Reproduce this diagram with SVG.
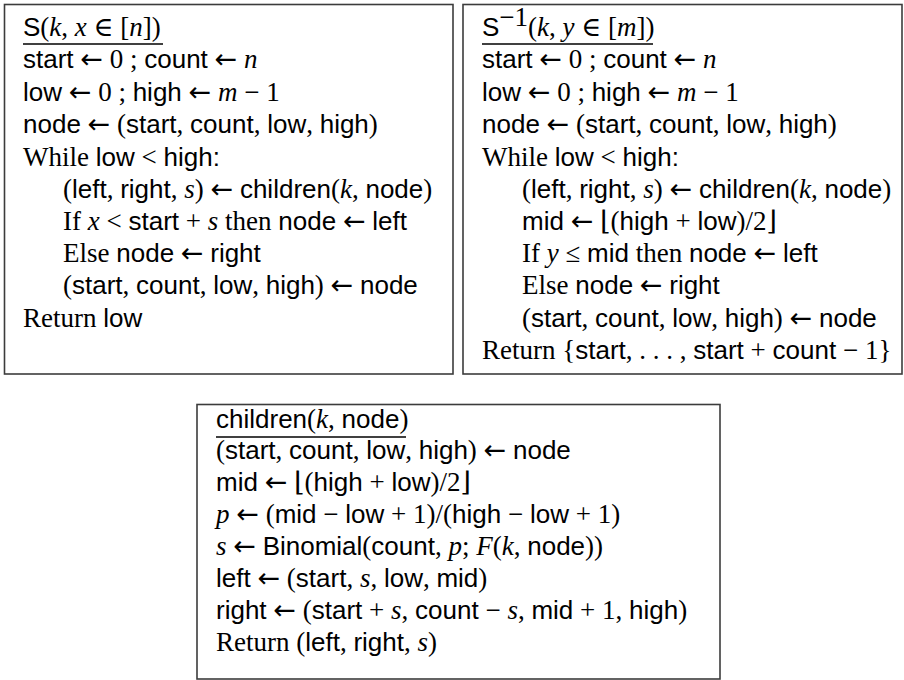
<svg xmlns="http://www.w3.org/2000/svg" width="904" height="680" viewBox="0 0 904 680">
<style>
text{font-family:"Liberation Sans",Arial,sans-serif;font-size:26px;fill:#000;white-space:pre}
.r{font-family:"Liberation Serif","DejaVu Serif",serif;font-size:27px}
.i{font-family:"Liberation Serif","DejaVu Serif",serif;font-size:27px;font-style:italic}
.a{font-family:"DejaVu Sans",sans-serif;font-size:27px;font-style:normal}
.box{fill:#fff;stroke:#3c3c3c;stroke-width:1.6}
.ul{stroke:#000;stroke-width:1.3}
</style>
<rect width="904" height="680" fill="#fff"/>
<g id="connectors"/>
<g id="S">
<rect class="box" x="4.5" y="4.5" width="448.5" height="369.5"/>
<text x="23" y="36">S<tspan class="r">(</tspan><tspan class="i">k</tspan><tspan class="r">, </tspan><tspan class="i">x</tspan><tspan class="r"> ∈ [</tspan><tspan class="i">n</tspan><tspan class="r">])</tspan></text>
<line class="ul" x1="23" y1="44" x2="163" y2="44"/>
<text x="23" y="68">start<tspan class="r"> <tspan class="a">←</tspan> 0 ; </tspan>count<tspan class="r"> <tspan class="a">←</tspan> </tspan><tspan class="i">n</tspan></text>
<text x="23" y="101">low<tspan class="r"> <tspan class="a">←</tspan> 0 ; </tspan>high<tspan class="r"> <tspan class="a">←</tspan> </tspan><tspan class="i">m</tspan><tspan class="r"> − 1</tspan></text>
<text x="23" y="133">node<tspan class="r"> <tspan class="a">←</tspan> (</tspan>start<tspan class="r">, </tspan>count<tspan class="r">, </tspan>low<tspan class="r">, </tspan>high<tspan class="r">)</tspan></text>
<text x="23" y="166"><tspan class="r">While </tspan>low<tspan class="r"> &lt; </tspan>high:</text>
<text x="63" y="198"><tspan class="r">(</tspan>left<tspan class="r">, </tspan>right<tspan class="r">, </tspan><tspan class="i">s</tspan><tspan class="r">) <tspan class="a">←</tspan> </tspan>children<tspan class="r">(</tspan><tspan class="i">k</tspan><tspan class="r">, </tspan>node<tspan class="r">)</tspan></text>
<text x="63" y="230"><tspan class="r">If </tspan><tspan class="i">x</tspan><tspan class="r"> &lt; </tspan>start<tspan class="r"> + </tspan><tspan class="i">s</tspan><tspan class="r"> then </tspan>node<tspan class="r"> <tspan class="a">←</tspan> </tspan>left</text>
<text x="63" y="262"><tspan class="r">Else </tspan>node<tspan class="r"> <tspan class="a">←</tspan> </tspan>right</text>
<text x="63" y="294"><tspan class="r">(</tspan>start<tspan class="r">, </tspan>count<tspan class="r">, </tspan>low<tspan class="r">, </tspan>high<tspan class="r">) <tspan class="a">←</tspan> </tspan>node</text>
<text x="23" y="327"><tspan class="r">Return </tspan>low</text>
</g>
<g id="Sinv">
<rect class="box" x="463" y="4.5" width="439" height="369.5"/>
<text x="482" y="36">S<tspan class="r" font-size="16" dy="-10">−1</tspan><tspan class="r" dy="10">(</tspan><tspan class="i">k</tspan><tspan class="r">, </tspan><tspan class="i">y</tspan><tspan class="r"> ∈ [</tspan><tspan class="i">m</tspan><tspan class="r">])</tspan></text>
<line class="ul" x1="482" y1="44" x2="653" y2="44"/>
<text x="482" y="68">start<tspan class="r"> <tspan class="a">←</tspan> 0 ; </tspan>count<tspan class="r"> <tspan class="a">←</tspan> </tspan><tspan class="i">n</tspan></text>
<text x="482" y="101">low<tspan class="r"> <tspan class="a">←</tspan> 0 ; </tspan>high<tspan class="r"> <tspan class="a">←</tspan> </tspan><tspan class="i">m</tspan><tspan class="r"> − 1</tspan></text>
<text x="482" y="133">node<tspan class="r"> <tspan class="a">←</tspan> (</tspan>start<tspan class="r">, </tspan>count<tspan class="r">, </tspan>low<tspan class="r">, </tspan>high<tspan class="r">)</tspan></text>
<text x="482" y="166"><tspan class="r">While </tspan>low<tspan class="r"> &lt; </tspan>high:</text>
<text x="522" y="198"><tspan class="r">(</tspan>left<tspan class="r">, </tspan>right<tspan class="r">, </tspan><tspan class="i">s</tspan><tspan class="r">) <tspan class="a">←</tspan> </tspan>children<tspan class="r">(</tspan><tspan class="i">k</tspan><tspan class="r">, </tspan>node<tspan class="r">)</tspan></text>
<text x="522" y="230">mid<tspan class="r"> <tspan class="a">←</tspan> ⌊(</tspan>high<tspan class="r"> + </tspan>low<tspan class="r">)/2⌋</tspan></text>
<text x="522" y="262"><tspan class="r">If </tspan><tspan class="i">y</tspan><tspan class="r"> ≤ </tspan>mid<tspan class="r"> then </tspan>node<tspan class="r"> <tspan class="a">←</tspan> </tspan>left</text>
<text x="522" y="294"><tspan class="r">Else </tspan>node<tspan class="r"> <tspan class="a">←</tspan> </tspan>right</text>
<text x="522" y="327"><tspan class="r">(</tspan>start<tspan class="r">, </tspan>count<tspan class="r">, </tspan>low<tspan class="r">, </tspan>high<tspan class="r">) <tspan class="a">←</tspan> </tspan>node</text>
<text x="482" y="359"><tspan class="r">Return {</tspan>start<tspan class="r">, . . . , </tspan>start<tspan class="r"> + </tspan>count<tspan class="r"> − 1}</tspan></text>
</g>
<g id="children">
<rect class="box" x="197" y="404.5" width="523" height="274.5"/>
<text x="216" y="428">children<tspan class="r">(</tspan><tspan class="i">k</tspan><tspan class="r">, </tspan>node<tspan class="r">)</tspan></text>
<line class="ul" x1="216" y1="437" x2="406" y2="437"/>
<text x="216" y="459"><tspan class="r">(</tspan>start<tspan class="r">, </tspan>count<tspan class="r">, </tspan>low<tspan class="r">, </tspan>high<tspan class="r">) <tspan class="a">←</tspan> </tspan>node</text>
<text x="216" y="491">mid<tspan class="r"> <tspan class="a">←</tspan> ⌊(</tspan>high<tspan class="r"> + </tspan>low<tspan class="r">)/2⌋</tspan></text>
<text x="216" y="523"><tspan class="i">p</tspan><tspan class="r"> <tspan class="a">←</tspan> (</tspan>mid<tspan class="r"> − </tspan>low<tspan class="r"> + 1)/(</tspan>high<tspan class="r"> − </tspan>low<tspan class="r"> + 1)</tspan></text>
<text x="216" y="555"><tspan class="i">s</tspan><tspan class="r"> <tspan class="a">←</tspan> </tspan>Binomial<tspan class="r">(</tspan>count<tspan class="r">, </tspan><tspan class="i">p</tspan><tspan class="r">; </tspan><tspan class="i">F</tspan><tspan class="r">(</tspan><tspan class="i">k</tspan><tspan class="r">, </tspan>node<tspan class="r">))</tspan></text>
<text x="216" y="587">left<tspan class="r"> <tspan class="a">←</tspan> (</tspan>start<tspan class="r">, </tspan><tspan class="i">s</tspan><tspan class="r">, </tspan>low<tspan class="r">, </tspan>mid<tspan class="r">)</tspan></text>
<text x="216" y="619">right<tspan class="r"> <tspan class="a">←</tspan> (</tspan>start<tspan class="r"> + </tspan><tspan class="i">s</tspan><tspan class="r">, </tspan>count<tspan class="r"> − </tspan><tspan class="i">s</tspan><tspan class="r">, </tspan>mid<tspan class="r"> + 1, </tspan>high<tspan class="r">)</tspan></text>
<text x="216" y="651"><tspan class="r">Return (</tspan>left<tspan class="r">, </tspan>right<tspan class="r">, </tspan><tspan class="i">s</tspan><tspan class="r">)</tspan></text>
</g>
</svg>
